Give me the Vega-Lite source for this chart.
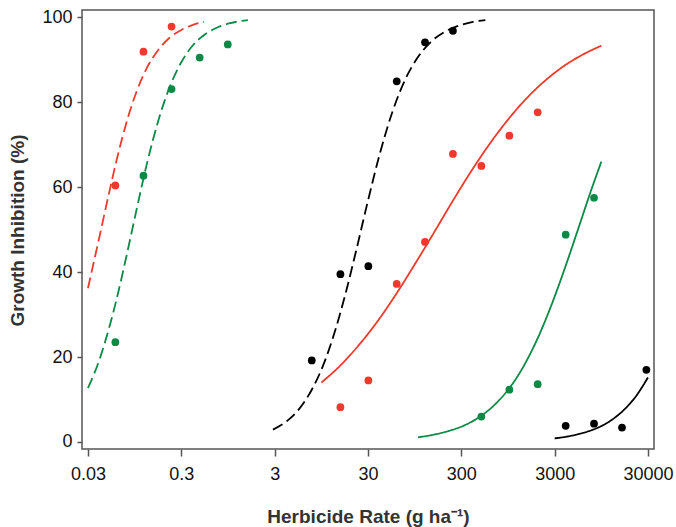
{
  "$schema": "https://vega.github.io/schema/vega-lite/v6.json",
  "width": 572,
  "height": 439,
  "autosize": {"type": "none"},
  "padding": {"left": 82, "top": 10, "right": 22, "bottom": 78},
  "background": "white",
  "config": {
    "view": {"stroke": "#555", "strokeWidth": 1.5},
    "axis": {
      "domain": false,
      "grid": false,
      "tickColor": "#555",
      "tickWidth": 1.5,
      "tickSize": 6,
      "labelFont": "Liberation Sans",
      "labelFontSize": 18,
      "labelColor": "#111",
      "titleFont": "Liberation Sans",
      "titleFontSize": 19,
      "titleFontWeight": "bold",
      "titleColor": "#333"
    }
  },
  "datasets": {
    "curves": [
      {"series": "A", "x": 0.03, "y": 36.2}, {"series": "A", "x": 0.04, "y": 48.5}, {"series": "A", "x": 0.05, "y": 58.2},
      {"series": "A", "x": 0.06, "y": 65.8}, {"series": "A", "x": 0.08, "y": 76.2}, {"series": "A", "x": 0.1, "y": 82.6},
      {"series": "A", "x": 0.13, "y": 88.3}, {"series": "A", "x": 0.17, "y": 92.3}, {"series": "A", "x": 0.22, "y": 95.0},
      {"series": "A", "x": 0.3, "y": 97.0}, {"series": "A", "x": 0.4, "y": 98.2}, {"series": "A", "x": 0.525, "y": 98.9},

      {"series": "B", "x": 0.03, "y": 12.7}, {"series": "B", "x": 0.04, "y": 19.5}, {"series": "B", "x": 0.05, "y": 26.5},
      {"series": "B", "x": 0.06, "y": 33.1}, {"series": "B", "x": 0.08, "y": 45.1}, {"series": "B", "x": 0.1, "y": 54.9},
      {"series": "B", "x": 0.13, "y": 66.0}, {"series": "B", "x": 0.17, "y": 75.6}, {"series": "B", "x": 0.22, "y": 83.0},
      {"series": "B", "x": 0.3, "y": 89.4}, {"series": "B", "x": 0.4, "y": 93.4}, {"series": "B", "x": 0.55, "y": 96.1},
      {"series": "B", "x": 0.75, "y": 97.7}, {"series": "B", "x": 1.0, "y": 98.6}, {"series": "B", "x": 1.55, "y": 99.3},

      {"series": "C", "x": 2.88, "y": 2.9}, {"series": "C", "x": 4, "y": 4.8}, {"series": "C", "x": 5.5, "y": 7.8},
      {"series": "C", "x": 7.5, "y": 12.3}, {"series": "C", "x": 10, "y": 18.2}, {"series": "C", "x": 13, "y": 25.4},
      {"series": "C", "x": 17, "y": 34.4}, {"series": "C", "x": 22, "y": 44.3}, {"series": "C", "x": 30, "y": 56.8},
      {"series": "C", "x": 40, "y": 67.7}, {"series": "C", "x": 55, "y": 77.8}, {"series": "C", "x": 75, "y": 85.3},
      {"series": "C", "x": 100, "y": 90.2}, {"series": "C", "x": 140, "y": 94.1}, {"series": "C", "x": 200, "y": 96.6},
      {"series": "C", "x": 300, "y": 98.2}, {"series": "C", "x": 400, "y": 98.9}, {"series": "C", "x": 543, "y": 99.3},

      {"series": "D", "x": 9.5, "y": 14.0}, {"series": "D", "x": 15, "y": 17.9}, {"series": "D", "x": 25, "y": 23.3},
      {"series": "D", "x": 40, "y": 29.1}, {"series": "D", "x": 60, "y": 34.8}, {"series": "D", "x": 100, "y": 42.6},
      {"series": "D", "x": 150, "y": 49.0}, {"series": "D", "x": 250, "y": 57.2}, {"series": "D", "x": 400, "y": 64.4},
      {"series": "D", "x": 600, "y": 70.1}, {"series": "D", "x": 1000, "y": 76.5}, {"series": "D", "x": 1500, "y": 80.9},
      {"series": "D", "x": 2500, "y": 85.5}, {"series": "D", "x": 4000, "y": 88.9}, {"series": "D", "x": 6000, "y": 91.2},
      {"series": "D", "x": 9500, "y": 93.3},

      {"series": "E", "x": 103, "y": 1.1}, {"series": "E", "x": 150, "y": 1.7}, {"series": "E", "x": 220, "y": 2.6},
      {"series": "E", "x": 330, "y": 4.0}, {"series": "E", "x": 500, "y": 6.3}, {"series": "E", "x": 700, "y": 9.0},
      {"series": "E", "x": 1000, "y": 12.9}, {"series": "E", "x": 1400, "y": 17.9}, {"series": "E", "x": 2000, "y": 24.7},
      {"series": "E", "x": 2800, "y": 32.5}, {"series": "E", "x": 4000, "y": 41.9}, {"series": "E", "x": 5500, "y": 50.9},
      {"series": "E", "x": 7500, "y": 59.7}, {"series": "E", "x": 9500, "y": 66.0},

      {"series": "F", "x": 3000, "y": 0.85}, {"series": "F", "x": 4000, "y": 1.24}, {"series": "F", "x": 5500, "y": 1.9},
      {"series": "F", "x": 7500, "y": 2.8}, {"series": "F", "x": 10000, "y": 4.0}, {"series": "F", "x": 13000, "y": 5.6},
      {"series": "F", "x": 17000, "y": 7.8}, {"series": "F", "x": 22000, "y": 10.6}, {"series": "F", "x": 30000, "y": 15.2}
    ],
    "points": [
      {"series": "A", "x": 0.059, "y": 60.4}, {"series": "A", "x": 0.118, "y": 91.9}, {"series": "A", "x": 0.236, "y": 97.8},
      {"series": "B", "x": 0.059, "y": 23.5}, {"series": "B", "x": 0.118, "y": 62.7}, {"series": "B", "x": 0.236, "y": 83.1},
      {"series": "B", "x": 0.472, "y": 90.5}, {"series": "B", "x": 0.944, "y": 93.6},
      {"series": "C", "x": 7.5, "y": 19.2}, {"series": "C", "x": 15.2, "y": 39.5}, {"series": "C", "x": 30.3, "y": 41.4},
      {"series": "C", "x": 61, "y": 84.9}, {"series": "C", "x": 122.5, "y": 94.1}, {"series": "C", "x": 244, "y": 96.8},
      {"series": "D", "x": 15.2, "y": 8.2}, {"series": "D", "x": 30.3, "y": 14.5}, {"series": "D", "x": 61, "y": 37.2},
      {"series": "D", "x": 122.5, "y": 47.1}, {"series": "D", "x": 244, "y": 67.8}, {"series": "D", "x": 492, "y": 65.0},
      {"series": "D", "x": 982, "y": 72.1}, {"series": "D", "x": 1974, "y": 77.6},
      {"series": "E", "x": 492, "y": 6.0}, {"series": "E", "x": 982, "y": 12.3}, {"series": "E", "x": 1974, "y": 13.6},
      {"series": "E", "x": 3940, "y": 48.8}, {"series": "E", "x": 7925, "y": 57.5},
      {"series": "F", "x": 3940, "y": 3.8}, {"series": "F", "x": 7925, "y": 4.3}, {"series": "F", "x": 15800, "y": 3.4},
      {"series": "F", "x": 28850, "y": 17.0}
    ]
  },
  "encoding": {
    "x": {
      "field": "x", "type": "quantitative",
      "scale": {"type": "log", "domain": [0.0259, 34800], "nice": false},
      "axis": {"values": [0.03, 0.3, 3, 30, 300, 3000, 30000], "format": "~g", "labelPadding": 9, "tickSize": 7,
               "title": "Herbicide Rate (g ha⁻¹)", "titlePadding": 24, "labelFlush": false, "labelOverlap": false}
    },
    "y": {
      "field": "y", "type": "quantitative",
      "scale": {"domain": [-1.65, 101.7], "nice": false, "zero": false},
      "axis": {"values": [0, 20, 40, 60, 80, 100], "labelPadding": 5, "tickSize": 5,
               "title": "Growth Inhibition (%)", "titleX": -59, "titleY": 220, "titleBaseline": "alphabetic", "titleAngle": -90}
    },
    "color": {
      "field": "series", "type": "nominal", "legend": null,
      "scale": {"domain": ["A", "B", "C", "D", "E", "F"], "range": ["#ee3a2c", "#0b8a46", "#000000", "#ee3a2c", "#0b8a46", "#000000"]}
    }
  },
  "layer": [
    {
      "data": {"name": "curves"},
      "mark": {"type": "line", "interpolate": "monotone", "strokeWidth": 1.8, "clip": true},
      "encoding": {
        "strokeDash": {
          "field": "series", "type": "nominal", "legend": null,
          "scale": {"domain": ["A", "B", "C", "D", "E", "F"], "range": [[11, 5], [11, 5], [11, 5], [1, 0], [1, 0], [1, 0]]}
        }
      }
    },
    {
      "data": {"name": "points"},
      "mark": {"type": "point", "filled": true, "opacity": 1, "size": 60}
    }
  ]
}
